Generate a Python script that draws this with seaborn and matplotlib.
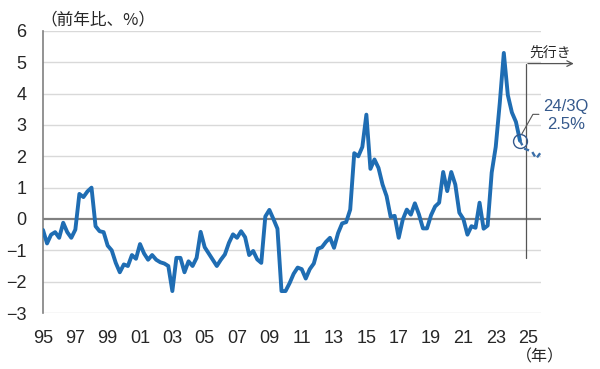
"""
plot.py — GDP deflator style chart (YoY %, quarterly) with short forecast tail.
"""

import numpy as np
import pandas as pd
import matplotlib
matplotlib.use("Agg")
import matplotlib.pyplot as plt
import seaborn as sns


# ─────────────────────────────────────────────
# Data (quarterly, from 1995Q1)
# ─────────────────────────────────────────────

start_quarter = "1995Q1"
actual = [
    -0.35, -0.78, -0.50, -0.42, -0.60, -0.12, -0.42, -0.60,   # 95-96
    -0.34, 0.80, 0.70, 0.88, 1.00, -0.23, -0.39, -0.42,       # 97-98
    -0.85, -1.00, -1.40, -1.70, -1.45, -1.50, -1.15, -1.27,   # 99-00
    -0.80, -1.10, -1.30, -1.15, -1.30, -1.38, -1.42, -1.50,   # 01-02
    -2.30, -1.24, -1.24, -1.70, -1.35, -1.50, -1.24, -0.41,   # 03-04
    -0.90, -1.10, -1.30, -1.50, -1.30, -1.13, -0.76, -0.49,   # 05-06
    -0.60, -0.39, -0.58, -1.15, -1.02, -1.29, -1.40, 0.08,    # 07-08
    0.29, 0.00, -0.31, -2.30, -2.30, -2.05, -1.75, -1.55,     # 09-10
    -1.60, -1.90, -1.60, -1.42, -0.95, -0.90, -0.73, -0.60,   # 11-12
    -0.92, -0.45, -0.14, -0.10, 0.30, 2.10, 2.00, 2.30,       # 13-14
    3.33, 1.60, 1.90, 1.63, 1.10, 0.73, 0.07, 0.10,           # 15-16
    -0.60, -0.02, 0.30, 0.14, 0.50, 0.15, -0.30, -0.30,       # 17-18
    0.12, 0.40, 0.52, 1.50, 0.89, 1.50, 1.10, 0.20,           # 19-20
    0.00, -0.50, -0.23, -0.28, 0.52, -0.31, -0.21, 1.48,      # 21-22
    2.30, 3.70, 5.30, 3.95, 3.40, 3.10, 2.50,                 # 23-24Q3
]
forecast_start = "2024Q3"
forecast = [2.50, 2.25, 2.20, 2.15, 1.93, 2.10]

xtick_years = list(range(1995, 2026, 2))
xtick_labels = [f"{y % 100:02d}" for y in xtick_years]
yticks = list(range(-3, 7))

callout_label = "24/3Q\n2.5%"
ylabel_text = "（前年比、%）"
year_text = "（年）"
ahead_text = "先行き"


def to_frac_year(periods):
    return periods.year + (periods.quarter - 1) / 4.0


df = pd.DataFrame({
    "x": to_frac_year(pd.period_range(start_quarter, periods=len(actual), freq="Q")),
    "y": actual,
})
df_fc = pd.DataFrame({
    "x": to_frac_year(pd.period_range(forecast_start, periods=len(forecast), freq="Q")),
    "y": forecast,
})


# ─────────────────────────────────────────────
# Plot
# ─────────────────────────────────────────────

sns.set_style("white")
num_font = ["Liberation Sans", "DejaVu Sans"]
jp_font = ["Noto Sans CJK JP", "DejaVu Sans"]
plt.rcParams["font.family"] = num_font

LINE = "#1f6db3"
NOTE = "#35598c"
GRID = "#d9d9d9"
AXIS = "#808080"
DARK = "#555555"

fig = plt.figure(figsize=(6.0, 3.69), dpi=100)
ax = fig.add_axes([43 / 600, 1 - 313 / 369, (541 - 43) / 600, (313 - 31) / 369])

ax.set_xlim(1995.0, 2025.8)
ax.set_ylim(-3, 6)

for v in yticks:
    if v != 0:
        ax.axhline(v, color=GRID, lw=1.0, zorder=0)
ax.axhline(0, color=AXIS, lw=1.6, zorder=1)

sns.lineplot(data=df, x="x", y="y", ax=ax, color=LINE, lw=2.8, zorder=3)
sns.lineplot(data=df_fc, x="x", y="y", ax=ax, color="#3a6ea8", lw=1.7,
             linestyle=(0, (2.2, 1.6)), zorder=3)

# y axis
ax.set_yticks(yticks)
ax.set_yticklabels([f"{v}" if v >= 0 else f"\u2212{abs(v)}" for v in yticks],
                   fontsize=13)
ax.tick_params(axis="y", direction="out", length=4, width=1, color=AXIS, pad=8)
for s in ["top", "right"]:
    ax.spines[s].set_visible(False)
ax.spines["left"].set_color(AXIS)
ax.spines["left"].set_linewidth(1.2)

# x axis: ticks on the zero line, labels at the bottom
ax.spines["bottom"].set_position(("data", 0))
ax.spines["bottom"].set_visible(False)
ax.set_xticks(xtick_years)
ax.tick_params(axis="x", direction="out", length=4, width=1, color=AXIS,
               labelbottom=False)
sec = ax.secondary_xaxis(-0.0)
sec.set_xticks(xtick_years)
sec.set_xticklabels(xtick_labels, fontsize=13)
sec.tick_params(length=0, pad=12)
sec.spines["bottom"].set_visible(False)

ax.set_xlabel("")
ax.set_ylabel("")

# callout at 24/3Q
ax.plot([df_fc["x"].iloc[0]], [df_fc["y"].iloc[0]], marker="o", ms=10,
        mfc="none", mec=NOTE, mew=1.0, zorder=4)
ax.plot([2024.62, 2025.30, 2025.67], [2.72, 3.34, 3.34], color=DARK,
        lw=0.8, clip_on=False, zorder=4)
ax.text(2027.34, 3.30, callout_label, color=NOTE, fontsize=12,
        family=["Liberation Sans", "DejaVu Sans"], ha="center", va="center",
        linespacing=1.3)

# forecast marker
ax.plot([2024.875, 2024.875], [-1.25, 4.96], color=DARK, lw=0.9,
        clip_on=False, zorder=2)
ax.annotate("", xy=(2028.0, 4.96), xytext=(2024.82, 4.96),
            arrowprops=dict(arrowstyle="->", color=DARK, lw=0.9),
            annotation_clip=False)
ax.text(2025.05, 5.32, ahead_text, fontsize=10, family=jp_font,
        ha="left", va="center")

fig.text(40 / 600, 1 - 20 / 369, ylabel_text, fontsize=12, family=jp_font,
         ha="left", va="center")
fig.text(540 / 600, 1 - 357 / 369, year_text, fontsize=11.5, family=jp_font,
         ha="center", va="center")

fig.savefig("out.png", dpi=100)
